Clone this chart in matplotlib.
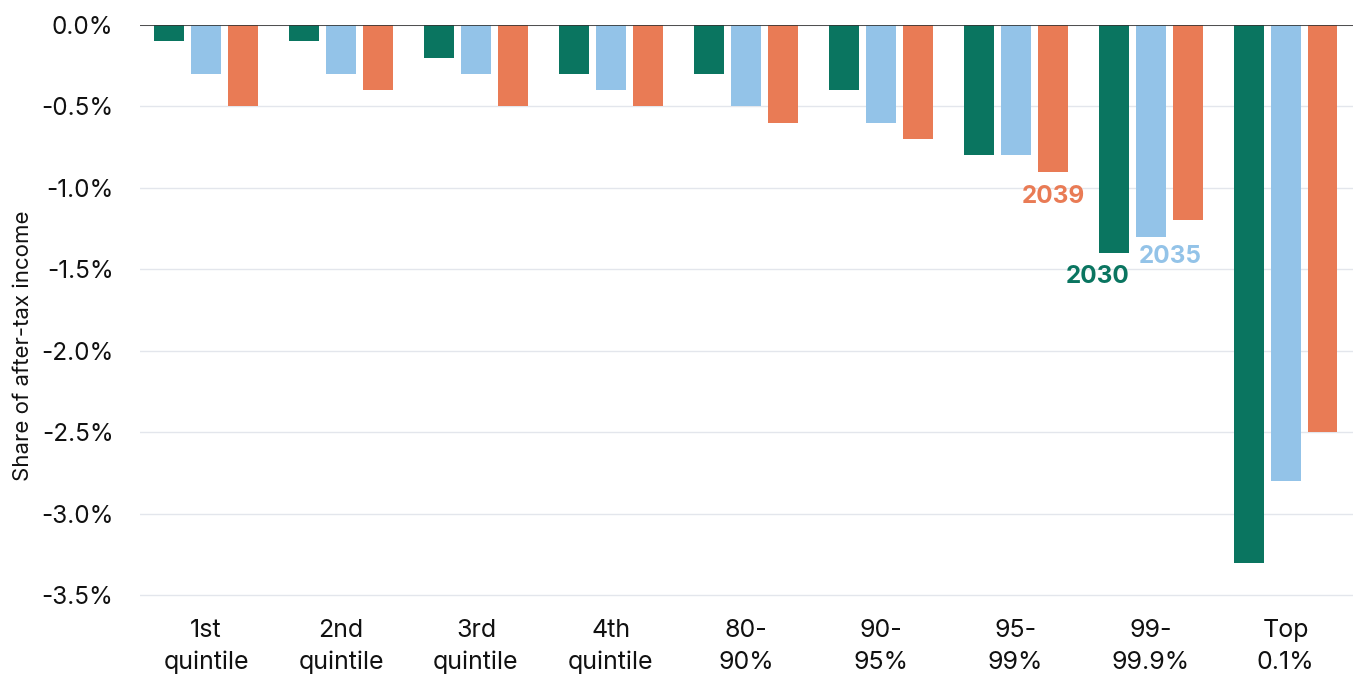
import matplotlib
matplotlib.use("Agg")
import matplotlib.pyplot as plt
import numpy as np

categories = ["1st\nquintile", "2nd\nquintile", "3rd\nquintile", "4th\nquintile",
              "80-\n90%", "90-\n95%", "95-\n99%", "99-\n99.9%", "Top\n0.1%"]
y2030 = [-0.1, -0.1, -0.2, -0.3, -0.3, -0.4, -0.8, -1.4, -3.3]
y2035 = [-0.3, -0.3, -0.3, -0.4, -0.5, -0.6, -0.8, -1.3, -2.8]
y2039 = [-0.5, -0.4, -0.5, -0.5, -0.6, -0.7, -0.9, -1.2, -2.5]
yticks = [0.0, -0.5, -1.0, -1.5, -2.0, -2.5, -3.0, -3.5]

c30 = "#0a7560"
c35 = "#93c3e8"
c39 = "#e97b55"

plt.rcParams['font.family'] = ['Inter', 'DejaVu Sans']

fig = plt.figure(figsize=(13.53, 6.77), dpi=100)
ax = fig.add_axes([140/1353, 1 - 600/677, 1 - 140/1353, (600-25)/677])

x = np.arange(len(categories))
w = 0.222
step = 0.274
ax.bar(x - step, y2030, w, color=c30, zorder=3)
ax.bar(x, y2035, w, color=c35, zorder=3)
ax.bar(x + step, y2039, w, color=c39, zorder=3)

ax.set_xlim(-0.49, 8.5)
ax.set_ylim(-3.53, 0)
ax.set_yticks(yticks)
ax.set_yticklabels([f"{v:.1f}%" for v in yticks])
ax.set_xticks(x)
ax.set_xticklabels(categories, linespacing=1.45)
ax.tick_params(axis='y', length=0, pad=19, labelsize=17.5, colors="#111111")
ax.tick_params(axis='x', length=0, pad=14, labelsize=18, colors="#111111")
ax.grid(axis='y', color="#e3e6ec", linewidth=1, zorder=0)
for s in ["left", "right", "bottom", "top"]:
    ax.spines[s].set_visible(False)
ax.axhline(0, color="#333333", linewidth=1.2, zorder=4)

ax.set_ylabel("Share of after-tax income", fontsize=16, color="#111111")
ax.yaxis.set_label_coords(-0.088, 0.443)

ax.text(6.605, -1.541, "2030", color=c30, fontsize=17.5, fontweight='bold', ha='center', va='center')
ax.text(7.146, -1.424, "2035", color=c35, fontsize=17.5, fontweight='bold', ha='center', va='center')
ax.text(6.279, -1.050, "2039", color=c39, fontsize=17.5, fontweight='bold', ha='center', va='center')

fig.savefig("out.png", dpi=100)
